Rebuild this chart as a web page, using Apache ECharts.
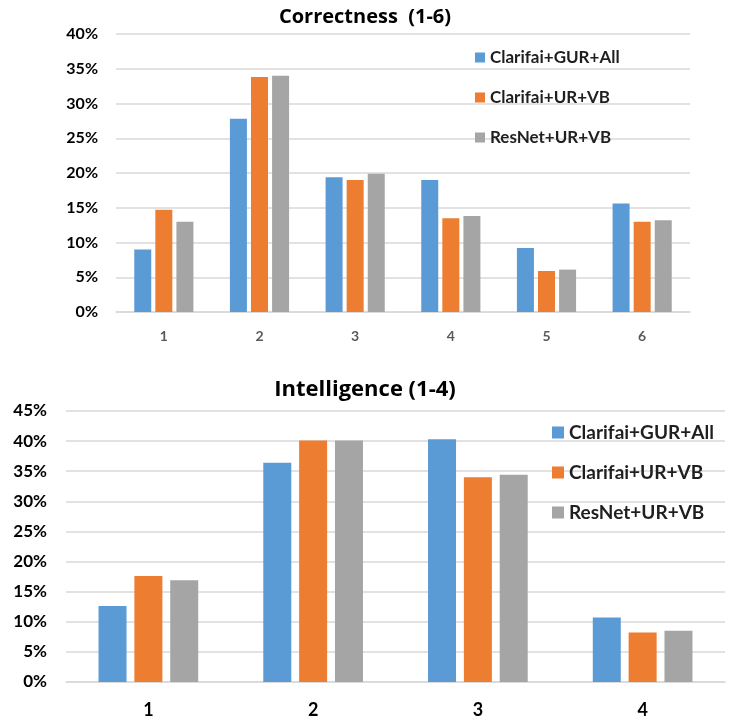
<!DOCTYPE html>
<html>
<head>
<meta charset="utf-8">
<script src="https://cdn.jsdelivr.net/npm/echarts@6/dist/echarts.min.js"></script>
<style>
  html, body { margin: 0; padding: 0; background: #ffffff; }
  #chart { width: 730px; height: 721px; }
</style>
</head>
<body>
<div id="chart"></div>
<script>
// Series names shared by both panels
const seriesNames = ['Clarifai+GUR+All', 'Clarifai+UR+VB', 'ResNet+UR+VB'];
const seriesColors = ['#5B9BD5', '#ED7D31', '#A5A5A5'];

// Correctness ratings (1-6), percent of responses
const correctnessCategories = ['1', '2', '3', '4', '5', '6'];
const correctnessGUR = [9.0, 27.8, 19.4, 19.0, 9.2, 15.6];
const correctnessUR = [14.7, 33.8, 19.0, 13.5, 5.9, 13.0];
const correctnessResNet = [13.0, 34.0, 19.9, 13.8, 6.1, 13.2];

// Intelligence ratings (1-4), percent of responses
const intelligenceCategories = ['1', '2', '3', '4'];
const intelligenceGUR = [12.6, 36.4, 40.3, 10.7];
const intelligenceUR = [17.6, 40.1, 34.0, 8.2];
const intelligenceResNet = [16.9, 40.1, 34.4, 8.5];

const FONT = 'Lato, "Open Sans", sans-serif';
const TITLE_FONT = '"Open Sans", Lato, sans-serif';
const gridLine = { lineStyle: { color: '#D9D9D9', width: 1.5 } };

const chart = echarts.init(document.getElementById('chart'), null, { renderer: 'canvas' });

function barSeries(name, color, data, axisIndex, width, gap) {
  return {
    type: 'bar',
    name: name,
    data: data,
    xAxisIndex: axisIndex,
    yAxisIndex: axisIndex,
    barWidth: width,
    barGap: gap,
    itemStyle: { color: color },
    animation: false
  };
}

chart.setOption({
  backgroundColor: '#ffffff',
  textStyle: { fontFamily: FONT },
  title: [
    {
      text: 'Correctness  (1-6)',
      left: 'center',
      top: 2,
      textStyle: { fontFamily: TITLE_FONT, fontSize: 20, fontWeight: 'bold', color: '#000000' }
    },
    {
      text: 'Intelligence (1-4)',
      left: 'center',
      top: 374,
      textStyle: { fontFamily: TITLE_FONT, fontSize: 22, fontWeight: 'bold', color: '#000000' }
    }
  ],
  legend: [
    {
      orient: 'vertical',
      left: 470,
      top: 44,
      itemWidth: 10,
      itemHeight: 10,
      itemGap: 23,
      icon: 'rect',
      data: seriesNames,
      textStyle: { fontFamily: FONT, fontSize: 17, fontWeight: 'bold', color: '#1f1f1f' }
    },
    {
      orient: 'vertical',
      left: 547,
      top: 418,
      itemWidth: 12,
      itemHeight: 12,
      itemGap: 21,
      icon: 'rect',
      data: seriesNames,
      textStyle: { fontFamily: FONT, fontSize: 19, fontWeight: 'bold', color: '#1f1f1f' }
    }
  ],
  grid: [
    { left: 116, top: 34, width: 574, height: 278 },
    { left: 66, top: 411, width: 659, height: 271 }
  ],
  xAxis: [
    {
      type: 'category',
      gridIndex: 0,
      data: correctnessCategories,
      axisLine: gridLine,
      axisTick: { show: false },
      axisLabel: { margin: 17, fontFamily: FONT, fontSize: 14, fontWeight: 'bold', color: '#595959' }
    },
    {
      type: 'category',
      gridIndex: 1,
      data: intelligenceCategories,
      axisLine: gridLine,
      axisTick: { show: false },
      axisLabel: { margin: 19, fontFamily: FONT, fontSize: 18, fontWeight: 'bold', color: '#000000' }
    }
  ],
  yAxis: [
    {
      type: 'value',
      gridIndex: 0,
      min: 0,
      max: 40,
      interval: 5,
      axisLine: { show: false },
      axisTick: { show: false },
      splitLine: gridLine,
      axisLabel: { margin: 18, formatter: '{value}%', fontFamily: FONT, fontSize: 16, fontWeight: 'bold', color: '#000000' }
    },
    {
      type: 'value',
      gridIndex: 1,
      min: 0,
      max: 45,
      interval: 5,
      axisLine: { show: false },
      axisTick: { show: false },
      splitLine: gridLine,
      axisLabel: { margin: 19, formatter: '{value}%', fontFamily: FONT, fontSize: 17, fontWeight: 'bold', color: '#000000' }
    }
  ],
  series: [
    barSeries(seriesNames[0], seriesColors[0], correctnessGUR, 0, 17, '24%'),
    barSeries(seriesNames[1], seriesColors[1], correctnessUR, 0, 17, '24%'),
    barSeries(seriesNames[2], seriesColors[2], correctnessResNet, 0, 17, '24%'),
    barSeries(seriesNames[0], seriesColors[0], intelligenceGUR, 1, 28, '28%'),
    barSeries(seriesNames[1], seriesColors[1], intelligenceUR, 1, 28, '28%'),
    barSeries(seriesNames[2], seriesColors[2], intelligenceResNet, 1, 28, '28%')
  ]
});
</script>
</body>
</html>
